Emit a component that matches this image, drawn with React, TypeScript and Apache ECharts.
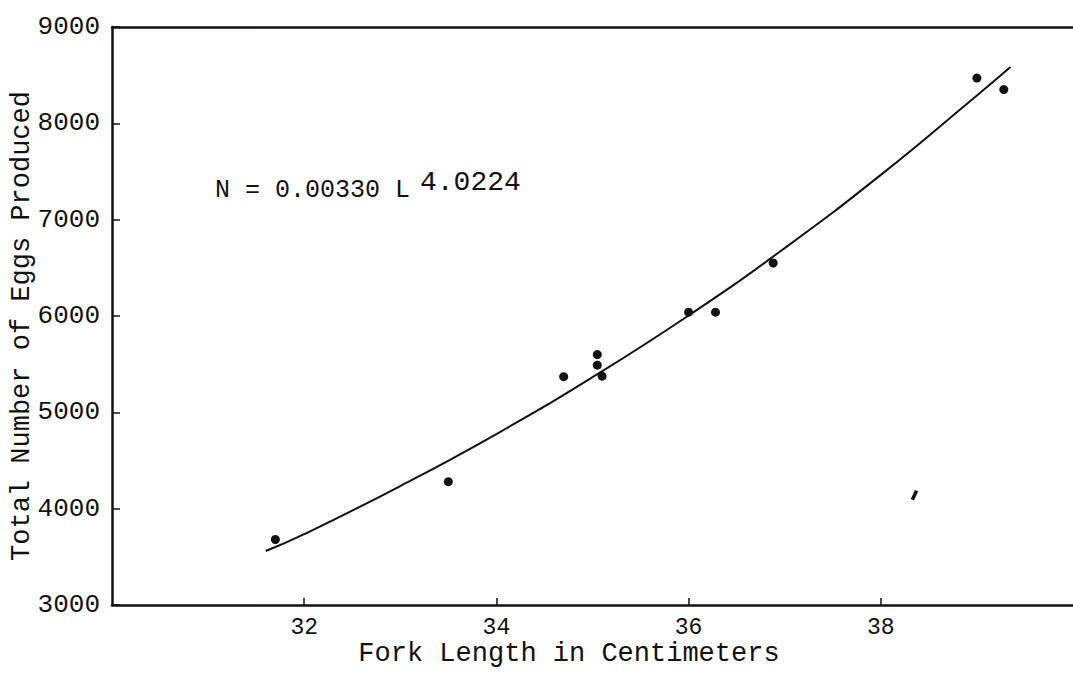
import React, { useEffect, useRef } from "react";
import * as echarts from "echarts";

const forkLengths = [31.7, 33.5, 34.7, 35.05, 35.05, 35.1, 36.0, 36.28, 36.88, 39.0, 39.28];
const eggCounts = [3680, 4280, 5370, 5600, 5490, 5375, 6040, 6040, 6550, 8470, 8350];
const strayLength = [38.35];
const strayEggs = [4140];

const fitLengths = [31.6, 32, 33, 34, 35, 36, 37, 38, 39, 39.35];
const fitEggs = [3560, 3735, 4235, 4775, 5365, 6005, 6705, 7465, 8290, 8585];

const xTicks = [32, 34, 36, 38];
const yTicks = [3000, 4000, 5000, 6000, 7000, 8000, 9000];

const xTitle = "Fork Length in Centimeters";
const yTitle = "Total Number of Eggs Produced";
const equationMain = "N = 0.00330 L";
const equationExp = "4.0224";

const FONT = "'Liberation Mono', 'DejaVu Sans Mono', monospace";

export default function App() {
  const ref = useRef<HTMLDivElement>(null);
  useEffect(() => {
    document.body.style.margin = "0";
    if (!ref.current) return;
    const chart = echarts.init(ref.current, null, { renderer: "svg" });
    const axisLine = { show: true, lineStyle: { color: "#111", width: 2.5 } };
    chart.setOption({
      animation: false,
      backgroundColor: "#ffffff",
      grid: { left: 112, top: 27, width: 965, height: 578 },
      xAxis: [
        {
          type: "value",
          min: 30,
          max: 40,
          interval: 2,
          axisLine,
          splitLine: { show: false },
          axisTick: {
            show: true,
            inside: true,
            length: 7,
            customValues: xTicks,
            lineStyle: { color: "#111", width: 1.5 },
          },
          axisLabel: {
            customValues: xTicks,
            margin: 11,
            fontFamily: FONT,
            fontSize: 23,
            color: "#111",
            formatter: (v: number) => String(v),
          },
        },
        {
          type: "value",
          position: "top",
          min: 30,
          max: 40,
          axisLine,
          axisTick: { show: false },
          axisLabel: { show: false },
          splitLine: { show: false },
        },
      ],
      yAxis: {
        type: "value",
        min: 3000,
        max: 9000,
        interval: 1000,
        axisLine,
        splitLine: { show: false },
        axisTick: {
          show: true,
          inside: true,
          length: 8,
          customValues: yTicks,
          lineStyle: { color: "#111", width: 1.5 },
        },
        axisLabel: {
          customValues: yTicks,
          margin: 12,
          fontFamily: FONT,
          fontSize: 26,
          color: "#111",
          formatter: (v: number) => String(v),
        },
      },
      series: [
        {
          type: "line",
          data: fitLengths.map((x, i) => [x, fitEggs[i]]),
          smooth: true,
          showSymbol: false,
          lineStyle: { color: "#111", width: 2 },
          z: 2,
        },
        {
          type: "scatter",
          data: forkLengths.map((x, i) => [x, eggCounts[i]]),
          symbol: "circle",
          symbolSize: 9,
          itemStyle: { color: "#111", opacity: 1 },
          z: 3,
        },
        {
          type: "scatter",
          data: strayLength.map((x, i) => [x, strayEggs[i]]),
          symbol: "rect",
          symbolSize: [3.5, 10],
          symbolRotate: -25,
          itemStyle: { color: "#111", opacity: 1 },
          z: 3,
        },
      ],
      graphic: [
        {
          type: "text",
          x: 569,
          y: 654,
          style: {
            text: xTitle,
            font: `27px ${FONT}`,
            fill: "#111",
            textAlign: "center",
            textVerticalAlign: "middle",
          },
        },
        {
          type: "text",
          x: 22,
          y: 326,
          rotation: Math.PI / 2,
          style: {
            text: yTitle,
            font: `27px ${FONT}`,
            fill: "#111",
            textAlign: "center",
            textVerticalAlign: "middle",
          },
        },
        {
          type: "text",
          x: 215,
          y: 190,
          style: {
            text: equationMain,
            font: `25px ${FONT}`,
            fill: "#111",
            textAlign: "left",
            textVerticalAlign: "middle",
          },
        },
        {
          type: "text",
          x: 420,
          y: 182,
          style: {
            text: equationExp,
            font: `28px ${FONT}`,
            fill: "#111",
            textAlign: "left",
            textVerticalAlign: "middle",
          },
        },
      ],
    });
    return () => chart.dispose();
  }, []);
  return <div ref={ref} style={{ width: 1073, height: 681 }} />;
}
